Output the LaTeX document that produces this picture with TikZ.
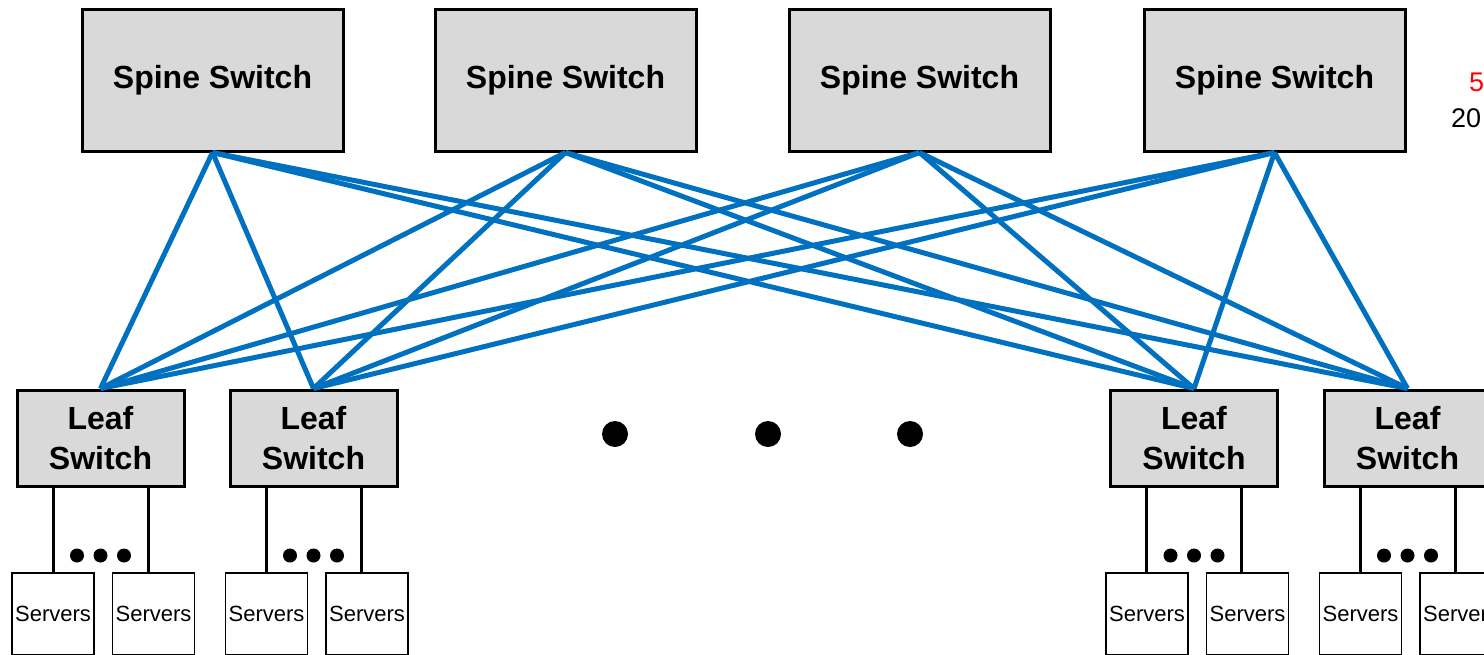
\documentclass[tikz,border=0pt]{standalone}
\usepackage{fontspec}
\setmainfont{Liberation Sans}
\definecolor{linkblue}{HTML}{0070C0}
\definecolor{boxgray}{HTML}{D9D9D9}
\begin{document}
\begin{tikzpicture}[x=1pt,y=-1pt,
  spinebox/.style={draw=black,line width=3pt,fill=boxgray,minimum width=261pt,minimum height=142pt,inner sep=0pt,font=\fontsize{32}{40}\selectfont\bfseries},
  leafbox/.style={draw=black,line width=3pt,fill=boxgray,minimum width=167pt,minimum height=96pt,inner sep=0pt,align=center,font=\fontsize{32}{40}\selectfont\bfseries},
  serverbox/.style={draw=black,line width=1.3pt,fill=white,minimum width=82pt,minimum height=82pt,inner sep=0pt,font=\fontsize{22}{26}\selectfont},
  link/.style={draw=linkblue,line width=5pt},
  wire/.style={draw=black,line width=3pt},
  smalldot/.style={fill=black,circle,minimum size=14pt,inner sep=0pt},
  bigdot/.style={fill=black,circle,minimum size=26pt,inner sep=0pt}]
\useasboundingbox (0,0) rectangle (1484,654);

% spine switches
\node[spinebox] (s1) at (212.5,80) {Spine Switch};
\node[spinebox] (s2) at (565.5,80) {Spine Switch};
\node[spinebox] (s3) at (919.5,80) {Spine Switch};
\node[spinebox] (s4) at (1274.5,80) {Spine Switch};

% leaf switches
\node[leafbox] (l1) at (100.5,438) {Leaf\\Switch};
\node[leafbox] (l2) at (313.5,438) {Leaf\\Switch};
\node[leafbox] (l3) at (1194,438) {Leaf\\Switch};
\node[leafbox] (l4) at (1407.5,438) {Leaf\\Switch};

% links
\foreach \s in {1,2,3,4}{
  \foreach \l in {1,2,3,4}{
    \draw[link] (s\s.south) -- (l\l.north);
  }
}

% servers
\node[serverbox] (v11) at (53,614) {Servers};
\node[serverbox] (v12) at (153.5,614) {Servers};
\node[serverbox] (v21) at (266.5,614) {Servers};
\node[serverbox] (v22) at (367,614) {Servers};
\node[serverbox] (v31) at (1147,614) {Servers};
\node[serverbox] (v32) at (1247.5,614) {Servers};
\node[serverbox] (v41) at (1360.5,614) {Servers};
\node[serverbox] (v42) at (1461,614) {Servers};

\foreach \l in {1,2,3,4}{
  \draw[wire] ([xshift=-47.5pt]l\l.south) -- ([xshift=-47.5pt]l\l.south |- v\l1.north);
  \draw[wire] ([xshift=47.5pt]l\l.south) -- ([xshift=47.5pt]l\l.south |- v\l2.north);
  \node[smalldot] (d\l a) at ([xshift=-23.5pt,yshift=-68pt]l\l.south) {};
  \node[smalldot] (d\l b) at ([yshift=-68pt]l\l.south) {};
  \node[smalldot] (d\l c) at ([xshift=23.5pt,yshift=-68pt]l\l.south) {};
}

% big dots
\node[bigdot] (b1) at (615,434) {};
\node[bigdot] (b2) at (768,434) {};
\node[bigdot] (b3) at (910,434) {};

% cut-off text at right
\node[anchor=base west,inner sep=0pt,text=red,font=\fontsize{27}{30}\selectfont] (t1) at (1469,91) {5};
\node[anchor=base west,inner sep=0pt,font=\fontsize{27}{30}\selectfont] (t2) at (1451,127) {20};
\end{tikzpicture}
\end{document}
